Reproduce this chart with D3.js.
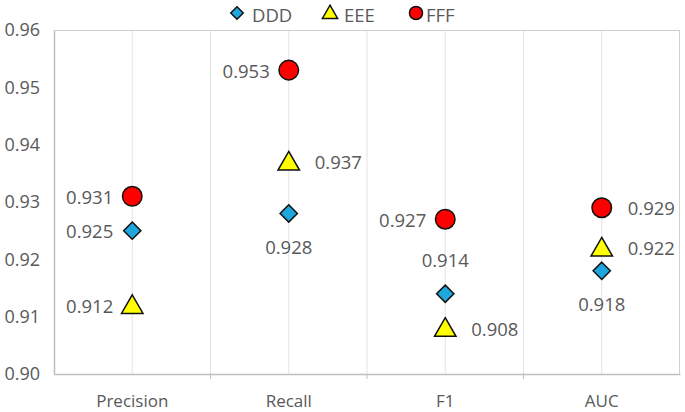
<!DOCTYPE html>
<html>
<head>
<meta charset="utf-8">
<script src="https://cdn.jsdelivr.net/npm/d3@7"></script>
<style>
	body { margin: 0; background: #fff; }
	text { font-family: "Open Sans", "Noto Sans", sans-serif; fill: #595959; }
</style>
</head>
<body>
<svg id="chart" width="685" height="412"></svg>
<script>
"use strict";

// chart data
var categories = ['Precision', 'Recall', 'F1', 'AUC'];
var seriesNames = ['DDD', 'EEE', 'FFF'];
var dddValues = [0.925, 0.928, 0.914, 0.918];
var eeeValues = [0.912, 0.937, 0.908, 0.922];
var fffValues = [0.931, 0.953, 0.927, 0.929];
var yTicks = [0.90, 0.91, 0.92, 0.93, 0.94, 0.95, 0.96];

// where each value label sits relative to its marker
var dddLabelPos = ['l', 'b', 't', 'b'];
var eeeLabelPos = ['l', 'r', 'r', 'r'];
var fffLabelPos = ['l', 'l', 'l', 'r'];

var width = 685, height = 412;
var margin = {top: 30, right: 5, bottom: 38, left: 54};

var svg = d3.select('#chart');

var x = d3.scaleBand()
	.domain(categories)
	.range([margin.left, width - margin.right]);

var y = d3.scaleLinear()
	.domain([0.90, 0.96])
	.range([height - margin.bottom, margin.top]);

var plot = svg.append('g');

//vertical gridlines at category centres and boundaries
var gridX = [];
categories.forEach(function(c, i) {
	if (i > 0) gridX.push(x(c));
	gridX.push(x(c) + x.bandwidth() / 2);
});
plot.selectAll('.grid').data(gridX).enter().append('line')
	.attr('x1', function(d) { return d; })
	.attr('x2', function(d) { return d; })
	.attr('y1', y(0.96))
	.attr('y2', y(0.90))
	.style('stroke', '#e3e3e3')
	.style('stroke-width', 1);

//plot border
plot.append('rect')
	.attr('x', x.range()[0] + 0.5)
	.attr('y', y(0.96) + 0.5)
	.attr('width', x.range()[1] - x.range()[0] - 1)
	.attr('height', y(0.90) - y(0.96))
	.style('fill', 'none')
	.style('stroke', '#d0d0d0');

//y axis
var yAxis = d3.axisLeft(y).tickValues(yTicks).tickFormat(d3.format('.2f')).tickSize(0).tickPadding(14);
var yg = svg.append('g').attr('transform', 'translate(' + margin.left + ',0)').call(yAxis);
yg.select('.domain').style('stroke', '#bfbfbf').style('stroke-width', 1.5);
yg.selectAll('text').style('font-size', '18px').style('fill', '#595959');

//x axis
var xAxis = d3.axisBottom(x).tickSize(0).tickPadding(21);
var xg = svg.append('g').attr('transform', 'translate(0,' + y(0.90) + ')').call(xAxis);
xg.select('.domain').style('stroke', '#bfbfbf').style('stroke-width', 1.5);
xg.selectAll('text').style('font-size', '17px').style('fill', '#595959');

//small tick marks at category boundaries
xg.selectAll('.btick').data(categories.slice(1)).enter().append('line')
	.attr('x1', function(d) { return x(d); })
	.attr('x2', function(d) { return x(d); })
	.attr('y1', 0)
	.attr('y2', 5)
	.style('stroke', '#bfbfbf');

var symbols = [d3.symbolDiamond2, d3.symbolTriangle, d3.symbolCircle];
var symbolSizes = [190, 200, 300];
var colors = ['#1fa6dd', '#ffff00', '#ff0000'];

var series = [
	{name: seriesNames[0], values: dddValues, pos: dddLabelPos},
	{name: seriesNames[1], values: eeeValues, pos: eeeLabelPos},
	{name: seriesNames[2], values: fffValues, pos: fffLabelPos}
];

series.forEach(function(s, si) {
	var pts = categories.map(function(c, i) {
		return {cat: c, v: s.values[i], pos: s.pos[i]};
	});
	var cx = function(d) { return x(d.cat) + x.bandwidth() / 2; };

	svg.selectAll('.m' + si).data(pts).enter().append('path')
		.attr('d', d3.symbol().type(symbols[si]).size(symbolSizes[si]))
		.attr('transform', function(d) {
			var dy = si === 1 ? 2 : 0;
			return 'translate(' + cx(d) + ',' + (y(d.v) + dy) + ')';
		})
		.style('fill', colors[si])
		.style('stroke', '#111')
		.style('stroke-width', 1.5);

	svg.selectAll('.l' + si).data(pts).enter().append('text')
		.attr('x', function(d) {
			if (d.pos === 'l') return cx(d) - 19;
			if (d.pos === 'r') return cx(d) + 26;
			return cx(d);
		})
		.attr('y', function(d) {
			if (d.pos === 't') return y(d.v) - 34;
			if (d.pos === 'b') return y(d.v) + 33;
			return y(d.v);
		})
		.attr('text-anchor', function(d) {
			if (d.pos === 'l') return 'end';
			if (d.pos === 'r') return 'start';
			return 'middle';
		})
		.attr('dominant-baseline', 'central')
		.style('font-size', '18.5px')
		.text(function(d) { return d3.format('.3f')(d.v); });
});

//legend
var legendX = [237, 330, 416];
var legend = svg.selectAll('.legend').data(series).enter().append('g')
	.attr('transform', function(d, i) { return 'translate(' + legendX[i] + ',13)'; });
legend.append('path')
	.attr('d', function(d, i) {
		return d3.symbol().type(symbols[i]).size([100, 100, 135][i])();
	})
	.attr('transform', function(d, i) { return i === 1 ? 'translate(0,1)' : null; })
	.style('fill', function(d, i) { return colors[i]; })
	.style('stroke', '#111')
	.style('stroke-width', 1.5);
legend.append('text')
	.attr('x', function(d, i) { return [15, 14, 10][i]; })
	.attr('y', 1)
	.attr('dominant-baseline', 'central')
	.style('font-size', '18.5px')
	.text(function(d) { return d.name; });
</script>
</body>
</html>
